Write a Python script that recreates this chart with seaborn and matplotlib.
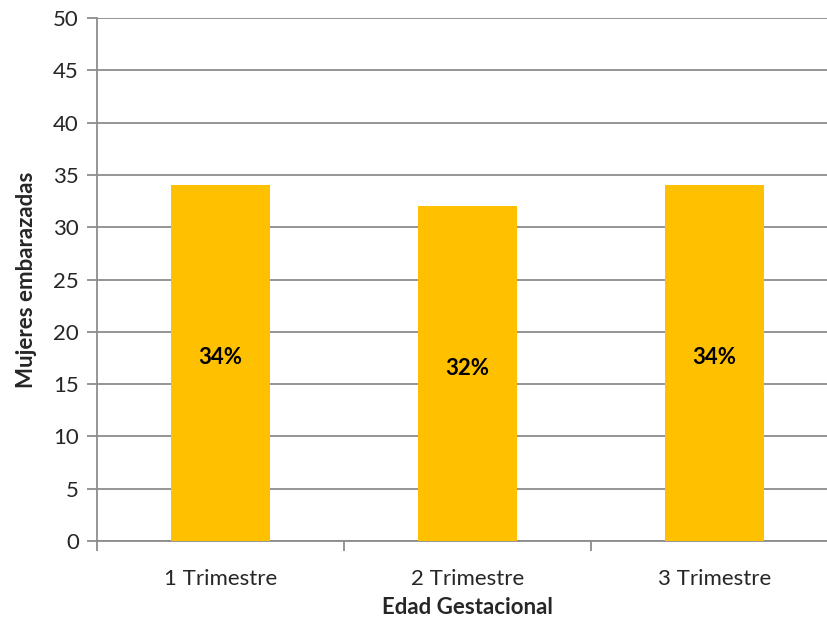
import numpy as np
import matplotlib
matplotlib.use('Agg')
import matplotlib.pyplot as plt
import seaborn as sns
import pandas as pd

# data
categories = ['1 Trimestre', '2 Trimestre', '3 Trimestre']
values = [34, 32, 34]
labels = ['34%', '32%', '34%']

sns.set_style('white')
plt.rcParams['font.family'] = ['Lato', 'DejaVu Sans']

df = pd.DataFrame({'trimestre': categories, 'mujeres': values})

fig = plt.figure(figsize=(8.28, 6.22), dpi=100)
ax = fig.add_axes([97 / 828, 81 / 622, 741 / 828, 523 / 622])

sns.barplot(data=df, x='trimestre', y='mujeres', color='#FFC000',
            saturation=1, width=0.4, linewidth=0, ax=ax, zorder=3)

ax.set_ylim(0, 50)
ax.set_xlim(-0.5, len(categories) - 0.5)
ax.set_yticks(np.arange(0, 51, 5))
ax.yaxis.grid(True, color='#8c8c8c', linewidth=1.3, zorder=0)
ax.set_axisbelow(True)

# category ticks sit between the bars like excel
ax.set_xticks(np.arange(len(categories)))
ax.set_xticklabels(categories)
ax.set_xticks(np.arange(-0.5, len(categories) + 0.5, 1), minor=True)
ax.tick_params(axis='x', which='major', length=0, labelsize=16, pad=20)
ax.tick_params(axis='x', which='minor', length=7, width=1.3, color='#8c8c8c',
               direction='out', bottom=True)
ax.tick_params(axis='y', length=7, width=1.3, color='#8c8c8c', direction='out',
               left=True, labelsize=16, pad=6)

for side in ['top', 'right']:
    ax.spines[side].set_visible(False)
for side in ['left', 'bottom']:
    ax.spines[side].set_color('#8c8c8c')
    ax.spines[side].set_linewidth(1.3)

for i, (v, lab) in enumerate(zip(values, labels)):
    ax.text(i, v / 2 + 0.5, lab, ha='center', va='center', fontsize=16,
            fontweight='bold', color='black', zorder=4)

ax.set_xlabel('Edad Gestacional', fontsize=16, fontweight='bold', labelpad=6)
ax.set_ylabel('Mujeres embarazadas', fontsize=16, fontweight='bold', labelpad=12)

fig.savefig('out.png', dpi=100)
